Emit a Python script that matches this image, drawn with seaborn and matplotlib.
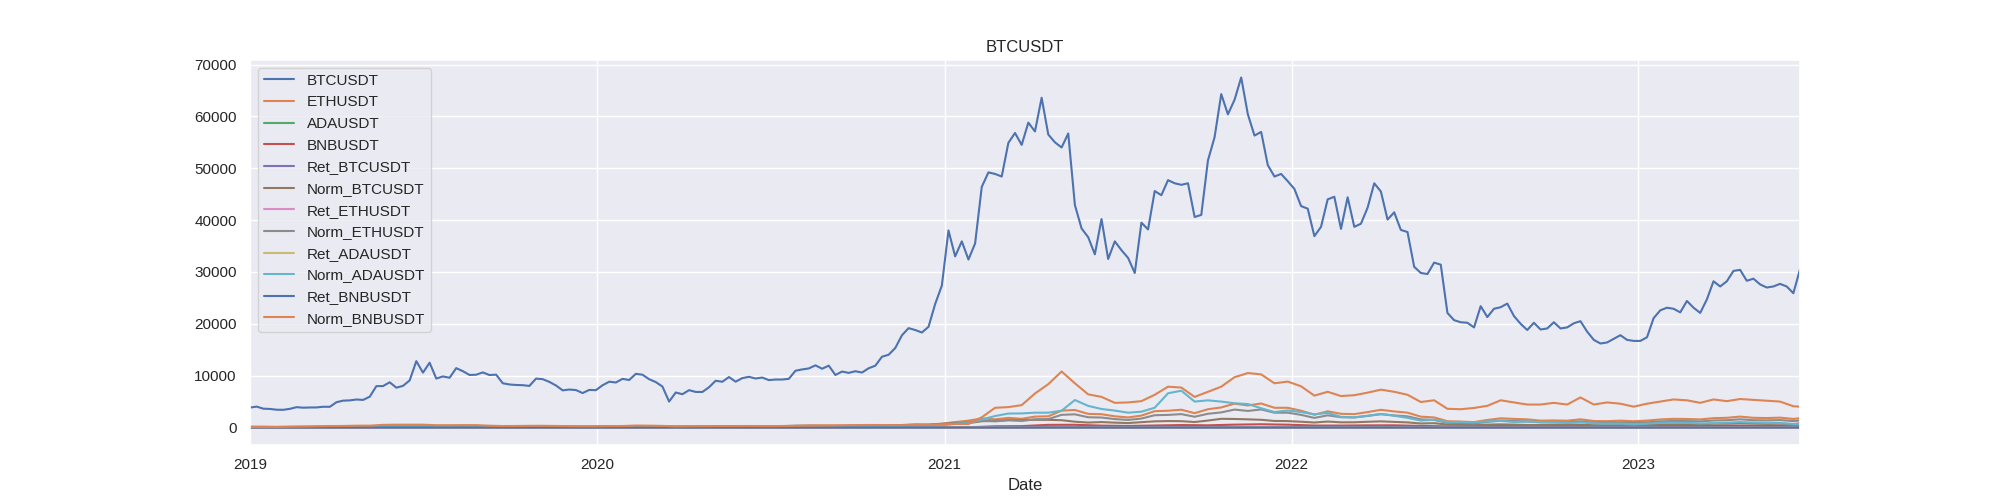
import matplotlib
matplotlib.use('Agg')
import matplotlib.pyplot as plt
import matplotlib.dates as mdates
import pandas as pd
import seaborn as sns

sns.set_theme(style='darkgrid')
plt.rcParams['font.family'] = ['Liberation Sans', 'DejaVu Sans']

# weekly closes for BTC, every other week for the derived series, every 4 weeks for the small ones
dates_w = pd.date_range('2019-01-01', '2023-06-20', freq='7D')
dates_2w = dates_w[::2].append(dates_w[-1:])
dates_4w = dates_w[::4].append(dates_w[-1:])

btc = [
    3840, 4030, 3630, 3580, 3430, 3410, 3600, 3920, 3820, 3860, 3870, 4000, 3990, 4880, 5180, 5230, 5400, 5320,
    5940, 7980, 7990, 8720, 7680, 8030, 9080, 12800, 10580, 12500, 9440, 9850, 9590, 11450, 10860, 10130, 10180,
    10620, 10120, 10190, 8530, 8300, 8200, 8160, 8020, 9430, 9320, 8800, 8100, 7160, 7320, 7220, 6640, 7250, 7200,
    8150, 8830, 8680, 9380, 9160, 10350, 10180, 9310, 8760, 7900, 5000, 6750, 6420, 7200, 6860, 6850, 7760,
    9020, 8820, 9730, 8840, 9520, 9770, 9450, 9630, 9140, 9250, 9250, 9390, 10950, 11200, 11390, 11990, 11330,
    11930, 10130, 10790, 10530, 10850, 10600, 11430, 11920, 13650, 14030, 15330, 17780, 19160, 18800, 18320,
    19430, 23830, 27370,
    38000, 33000, 35900, 32400, 35500, 46400, 49200, 48900, 48400, 54900, 56800, 54500, 58800, 57100, 63600,
    56500, 55000, 54000, 56700, 42900, 38400, 36700, 33400, 40200, 32500, 35900, 34200, 32700, 29800, 39500,
    38200, 45600, 44800, 47700, 47100, 46800, 47100, 40600, 41000, 51500, 56000, 64300, 60400, 63200, 67500,
    60400, 56300, 57000, 50600, 48400, 48900, 47500,
    46000, 42700, 42200, 36900, 38700, 44000, 44500, 38300, 44400, 38700, 39300, 42400, 47100, 45500, 40100,
    41500, 38100, 37700, 31000, 29800, 29600, 31800, 31400, 22100, 20700, 20300, 20200, 19300, 23400, 21300,
    22900, 23200, 23900, 21500, 20000, 18800, 20200, 18900, 19100, 20300, 19100, 19300, 20100, 20500, 18500,
    16900, 16200, 16400, 17100, 17800, 16900, 16700,
    16700, 17400, 21100, 22600, 23100, 22900, 22200, 24400, 23100, 22100, 24700, 28200, 27200, 28200, 30200,
    30400, 28300, 28700, 27600, 27000, 27200, 27700, 27200, 25900, 30500,
]

eth = [
    133, 128, 105, 120, 137, 133, 137, 178, 170, 172, 255, 248, 265, 292, 200, 210, 208, 187, 180, 166,
    180, 172, 188, 175, 148, 122, 130,
    165, 175, 236, 250, 200, 135, 170, 170, 205, 212, 248, 232, 226, 240, 318, 380, 384, 350, 343, 340,
    368, 385, 480, 615, 590, 730,
    1050, 1320, 1750, 1570, 1860, 1680, 2100, 2160, 3250, 3380, 2630, 2560, 2160, 1940, 2300, 3150, 3230,
    3430, 2760, 3520, 3870, 4600, 4250, 4630, 3800, 3800,
    3240, 2460, 3120, 2640, 2580, 2970, 3410, 3100, 2860, 2090, 1940, 1210, 1140, 1040, 1450, 1770, 1660,
    1570, 1320, 1360, 1310, 1580, 1250, 1220, 1320, 1210,
    1330, 1550, 1670, 1640, 1560, 1800, 1870, 2100, 1870, 1820, 1900, 1650, 1790,
]

ada = [
    0.042, 0.040, 0.044, 0.066, 0.071, 0.085, 0.095, 0.061, 0.049, 0.044, 0.039, 0.042, 0.038, 0.033,
    0.053, 0.062, 0.031, 0.035, 0.050, 0.075, 0.115, 0.125, 0.090, 0.105, 0.095, 0.170, 0.180,
    0.340, 0.930, 1.140, 1.200, 1.900, 1.500, 1.200, 1.600, 2.800, 2.200, 1.960, 1.560, 1.380,
    1.070, 0.860, 0.950, 0.950, 0.560, 0.440, 0.420, 0.530, 0.470, 0.420, 0.410, 0.310, 0.250,
    0.370, 0.380, 0.360, 0.440, 0.370, 0.280, 0.280,
]

bnb = [
    6.1, 6.3, 10.5, 16.8, 21.5, 31, 33, 27, 28, 21, 18, 20, 15.5, 13.7,
    17.5, 21.5, 12.8, 15.7, 16.7, 17.3, 17.5, 22.5, 25, 29, 28.5, 32, 37,
    41, 232, 263, 510, 520, 360, 295, 385, 470, 420, 550, 625, 540,
    375, 370, 410, 420, 300, 220, 230, 320, 275, 290, 325, 295, 245,
    305, 320, 330, 335, 315, 250, 245,
]

ret_btc = [
    0.000, -0.011, 0.024, 0.015, -0.008, 0.032, -0.020, 0.041, -0.015, 0.006, 0.012, -0.027, 0.009, 0.003,
    -0.018, 0.007, 0.052, -0.012, 0.019, -0.006, 0.011, 0.004, -0.021, 0.013, 0.026, 0.008, 0.035,
    -0.041, 0.028, 0.017, -0.009, -0.063, 0.021, -0.034, 0.046, 0.012, -0.025, 0.038, -0.017, 0.006,
    -0.022, 0.031, -0.011, 0.014, -0.052, 0.008, 0.019, -0.007, 0.004, 0.011, -0.009, -0.003, 0.002,
    0.015, -0.006, 0.024, 0.009, -0.012, -0.016, 0.062,
]

ret_eth = [
    0.000, -0.021, 0.033, 0.012, -0.014, 0.041, -0.027, 0.052, -0.019, 0.010, 0.018, -0.036, 0.011, 0.005,
    -0.024, 0.013, 0.061, -0.018, 0.026, -0.010, 0.017, 0.006, -0.029, 0.019, 0.034, 0.012, 0.044,
    -0.055, 0.039, 0.025, -0.013, -0.081, 0.029, -0.045, 0.058, 0.016, -0.032, 0.049, -0.023, 0.009,
    -0.031, 0.042, -0.016, 0.019, -0.071, 0.011, 0.026, -0.010, 0.006, 0.015, -0.012, -0.005, 0.003,
    0.021, -0.009, 0.031, 0.012, -0.017, -0.021, 0.048,
]

ret_ada = [
    0.000, -0.028, 0.041, 0.017, -0.019, 0.052, -0.033, 0.066, -0.024, 0.013, 0.022, -0.045, 0.015, 0.007,
    -0.031, 0.016, 0.078, -0.023, 0.033, -0.013, 0.021, 0.008, -0.037, 0.024, 0.043, 0.015, 0.056,
    -0.069, 0.049, 0.031, -0.016, -0.094, 0.036, -0.057, 0.072, 0.020, -0.041, 0.061, -0.029, 0.011,
    -0.039, 0.053, -0.020, 0.024, -0.089, 0.014, 0.033, -0.012, 0.008, 0.019, -0.015, -0.006, 0.004,
    0.026, -0.011, 0.039, 0.015, -0.021, -0.027, 0.035,
]

ret_bnb = [
    0.000, -0.017, 0.029, 0.014, -0.012, 0.037, -0.024, 0.048, -0.017, 0.009, 0.016, -0.032, 0.010, 0.004,
    -0.021, 0.011, 0.057, -0.015, 0.023, -0.008, 0.014, 0.005, -0.025, 0.016, 0.030, 0.010, 0.039,
    -0.048, 0.034, 0.021, -0.011, -0.072, 0.025, -0.039, 0.052, 0.014, -0.028, 0.043, -0.020, 0.007,
    -0.027, 0.037, -0.013, 0.016, -0.061, 0.009, 0.022, -0.008, 0.005, 0.013, -0.010, -0.004, 0.002,
    0.018, -0.007, 0.027, 0.010, -0.014, -0.019, -0.008,
]

norm_btc = [
    100, 95, 90, 94, 100, 101, 104, 135, 141, 155, 208, 200, 236, 276, 246, 250, 283, 265, 264, 222,
    214, 209, 243, 211, 191, 173, 188,
    230, 244, 270, 242, 206, 176, 188, 178, 235, 253, 248, 246, 238, 241, 285, 297, 295, 264, 274, 276,
    311, 366, 463, 490, 506, 713,
    860, 844, 1209, 1274, 1430, 1420, 1487, 1472, 1407, 1118, 956, 1047, 935, 852, 1029, 1188, 1242,
    1219, 1058, 1341, 1675, 1646, 1573, 1485, 1261, 1237,
    1112, 961, 1146, 998, 1008, 1104, 1185, 1081, 982, 776, 828, 576, 529, 503, 555, 604, 560, 490, 492,
    529, 503, 534, 440, 427, 464, 435,
    453, 589, 596, 635, 576, 734, 734, 792, 747, 703, 721, 674, 794,
]

norm_eth = [
    100, 96, 79, 90, 103, 100, 103, 134, 128, 129, 192, 186, 199, 220, 150, 158, 156, 141, 135, 125,
    135, 129, 141, 132, 111, 92, 98,
    124, 132, 177, 188, 150, 102, 128, 128, 154, 159, 186, 174, 170, 180, 239, 286, 289, 263, 258, 256,
    277, 289, 361, 462, 444, 549,
    789, 992, 1316, 1180, 1398, 1263, 1579, 1624, 2444, 2541, 1977, 1925, 1624, 1459, 1729, 2368, 2429,
    2579, 2075, 2647, 2910, 3459, 3195, 3481, 2857, 2857,
    2436, 1850, 2346, 1985, 1940, 2233, 2564, 2331, 2150, 1571, 1459, 910, 857, 782, 1090, 1331, 1248,
    1180, 992, 1023, 985, 1188, 940, 917, 992, 910,
    1000, 1165, 1256, 1233, 1173, 1353, 1406, 1579, 1406, 1368, 1429, 1241, 1346,
]

norm_ada = [
    100, 110, 95, 100, 105, 121, 157, 198, 169, 160, 202, 219, 226, 195, 145, 138, 117, 114, 105, 93,
    93, 90, 100, 95, 90, 81, 79,
    107, 126, 174, 148, 107, 74, 74, 83, 121, 119, 186, 179, 212, 274, 333, 298, 262, 214, 202, 250,
    250, 226, 286, 405, 357, 429,
    690, 810, 1548, 2214, 2690, 2714, 2857, 2857, 3238, 5300, 4167, 3571, 3262, 2857, 3048, 3810, 6600,
    7100, 5000, 5238, 5000, 4667, 4524, 3714, 2976, 3286,
    2976, 2548, 2810, 2048, 1952, 2262, 2619, 2262, 1857, 1333, 1476, 1048, 1071, 1000, 1167, 1262, 1071,
    1119, 1071, 1000, 857, 976, 810, 738, 738, 595,
    738, 881, 929, 905, 786, 857, 929, 1048, 952, 881, 881, 667, 667,
]

norm_bnb = [
    100, 102, 103, 152, 172, 238, 275, 295, 352, 352, 508, 541, 541, 541, 443, 443, 459, 459, 344, 279,
    295, 320, 328, 295, 254, 238, 225,
    270, 287, 377, 352, 311, 210, 238, 257, 279, 274, 287, 284, 254, 287, 328, 369, 377, 410, 451, 475,
    484, 467, 459, 525, 508, 607,
    689, 672, 1967, 3803, 3934, 4311, 6557, 8361, 10800, 8525, 6393, 5902, 4754, 4836, 5082, 6311, 7869,
    7705, 5902, 6885, 7869, 9700, 10500, 10246, 8525, 8852,
    7950, 6148, 6885, 6066, 6230, 6721, 7295, 6885, 6311, 4918, 5246, 3607, 3525, 3770, 4180, 5246, 4836,
    4426, 4426, 4754, 4426, 5800, 4426, 4836, 4590, 4016,
    4590, 5000, 5410, 5246, 4754, 5410, 5082, 5492, 5328, 5164, 5000, 4098, 4016,
]

series = [
    ('BTCUSDT', dates_w, btc),
    ('ETHUSDT', dates_2w, eth),
    ('ADAUSDT', dates_4w, ada),
    ('BNBUSDT', dates_4w, bnb),
    ('Ret_BTCUSDT', dates_4w, ret_btc),
    ('Norm_BTCUSDT', dates_2w, norm_btc),
    ('Ret_ETHUSDT', dates_4w, ret_eth),
    ('Norm_ETHUSDT', dates_2w, norm_eth),
    ('Ret_ADAUSDT', dates_4w, ret_ada),
    ('Norm_ADAUSDT', dates_2w, norm_ada),
    ('Ret_BNBUSDT', dates_4w, ret_bnb),
    ('Norm_BNBUSDT', dates_2w, norm_bnb),
]

palette = sns.color_palette('deep', 10)

fig, ax = plt.subplots(figsize=(20, 5), dpi=100)
for i, (name, x, y) in enumerate(series):
    sns.lineplot(x=x, y=y, label=name, color=palette[i % 10], linewidth=1.5, ax=ax)

ax.legend(loc='upper left')
ax.set_xlim(dates_w[0], dates_w[-1])
ax.xaxis.set_major_locator(mdates.YearLocator())
ax.xaxis.set_major_formatter(mdates.DateFormatter('%Y'))
ax.set_title('BTCUSDT')
ax.set_xlabel('Date')
ax.set_ylabel('')
fig.savefig('out.png', dpi=100)
plt.close(fig)
